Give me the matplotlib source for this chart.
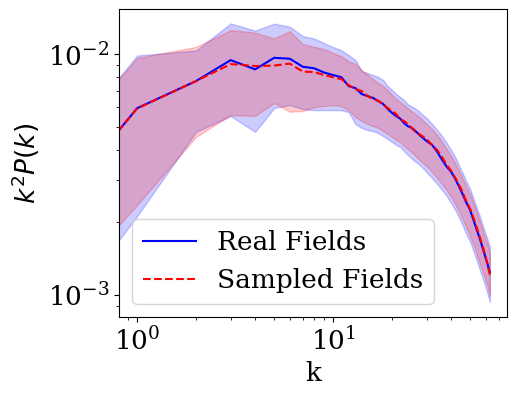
import matplotlib
matplotlib.use("Agg")
import matplotlib.pyplot as plt
import numpy as np

plt.rcParams['font.family'] = 'serif'
plt.rcParams['font.size'] = 19

k = [0.8, 1, 2, 3, 4, 5, 6, 7, 8, 9, 10, 11, 12, 13, 14, 15, 16, 17, 18, 19, 20,
     21, 22, 23, 24, 25, 26, 27, 28, 30, 32, 34, 36, 38, 40, 42, 45, 48, 50, 53,
     56, 59, 61, 63]

real_mean = [0.00478, 0.00596, 0.00773, 0.00944, 0.00864, 0.00965, 0.00957, 0.00886,
             0.00873, 0.00838, 0.00818, 0.00802, 0.00736, 0.00722, 0.00682, 0.00669,
             0.00657, 0.00638, 0.00620, 0.00591, 0.00569, 0.00552, 0.00539, 0.00517,
             0.00502, 0.00495, 0.00483, 0.00469, 0.00456, 0.00435, 0.00419, 0.00392,
             0.00363, 0.00340, 0.00324, 0.00303, 0.00270, 0.00240, 0.00225, 0.00195,
             0.00171, 0.00149, 0.00136, 0.00124]

sampled_mean = [0.00478, 0.00594, 0.00773, 0.00909, 0.00892, 0.00896, 0.00913, 0.00846,
                0.00842, 0.00818, 0.00802, 0.00787, 0.00743, 0.00716, 0.00702, 0.00669,
                0.00651, 0.00638, 0.00620, 0.00596, 0.00580, 0.00563, 0.00537, 0.00527,
                0.00512, 0.00497, 0.00479, 0.00469, 0.00461, 0.00443, 0.00419, 0.00399,
                0.00373, 0.00346, 0.00327, 0.00306, 0.00275, 0.00243, 0.00227, 0.00200,
                0.00174, 0.00151, 0.00136, 0.00121]

real_upper = [0.00790, 0.00986, 0.01036, 0.01341, 0.01252, 0.01338, 0.01300, 0.01188,
              0.01160, 0.01111, 0.01069, 0.01039, 0.00990, 0.00944, 0.00850, 0.00834,
              0.00818, 0.00803, 0.00780, 0.00736, 0.00709, 0.00682, 0.00663, 0.00644,
              0.00620, 0.00608, 0.00597, 0.00585, 0.00569, 0.00542, 0.00512, 0.00483,
              0.00456, 0.00427, 0.00399, 0.00373, 0.00330, 0.00294, 0.00275, 0.00240,
              0.00212, 0.00186, 0.00172, 0.00158]

real_lower = [0.00167, 0.00212, 0.00475, 0.00553, 0.00475, 0.00597, 0.00614, 0.00591,
              0.00585, 0.00585, 0.00585, 0.00585, 0.00574, 0.00512, 0.00493, 0.00483,
              0.00479, 0.00469, 0.00456, 0.00443, 0.00431, 0.00419, 0.00411, 0.00395,
              0.00381, 0.00370, 0.00359, 0.00352, 0.00343, 0.00323, 0.00305, 0.00288,
              0.00272, 0.00257, 0.00240, 0.00225, 0.00200, 0.00177, 0.00166, 0.00145,
              0.00127, 0.00112, 0.00103, 0.000932]

sampled_upper = [0.00780, 0.00963, 0.01072, 0.01258, 0.01228, 0.01162, 0.01246, 0.01100,
                 0.01072, 0.01049, 0.01010, 0.00981, 0.00935, 0.00909, 0.00858, 0.00818,
                 0.00787, 0.00758, 0.00736, 0.00709, 0.00676, 0.00650, 0.00632, 0.00614,
                 0.00597, 0.00580, 0.00569, 0.00553, 0.00542, 0.00512, 0.00488, 0.00461,
                 0.00431, 0.00403, 0.00377, 0.00352, 0.00314, 0.00280, 0.00262, 0.00231,
                 0.00202, 0.00177, 0.00164, 0.00150]

sampled_lower = [0.00193, 0.00236, 0.00453, 0.00558, 0.00553, 0.00626, 0.00576, 0.00580,
                 0.00602, 0.00608, 0.00614, 0.00608, 0.00585, 0.00547, 0.00527, 0.00512,
                 0.00502, 0.00493, 0.00479, 0.00465, 0.00452, 0.00439, 0.00431, 0.00415,
                 0.00403, 0.00392, 0.00381, 0.00370, 0.00359, 0.00343, 0.00323, 0.00305,
                 0.00288, 0.00272, 0.00255, 0.00238, 0.00212, 0.00189, 0.00175, 0.00155,
                 0.00135, 0.00120, 0.00110, 0.000997]

labels = ["Real Fields", "Sampled Fields"]

fig = plt.figure(figsize=(5.16, 3.96), dpi=100)
ax = fig.add_axes([0.231, 0.1995, 0.752, 0.7775])

ax.fill_between(k, real_lower, real_upper, color='blue', alpha=0.2)
ax.fill_between(k, sampled_lower, sampled_upper, color='red', alpha=0.2)
ax.plot(k, real_mean, color='blue', linestyle='-', linewidth=1.5, label=labels[0])
ax.plot(k, sampled_mean, color='red', linestyle='--', linewidth=1.5, label=labels[1])

ax.set_xscale('log')
ax.set_yscale('log')
ax.set_xlim(0.81, 77.3)
ax.set_ylim(8.08e-4, 1.538e-2)
ax.set_xlabel('k')
ax.set_ylabel('$k^2P(k)$')
ax.legend(loc='lower left')

fig.savefig('out.png', dpi=100)
